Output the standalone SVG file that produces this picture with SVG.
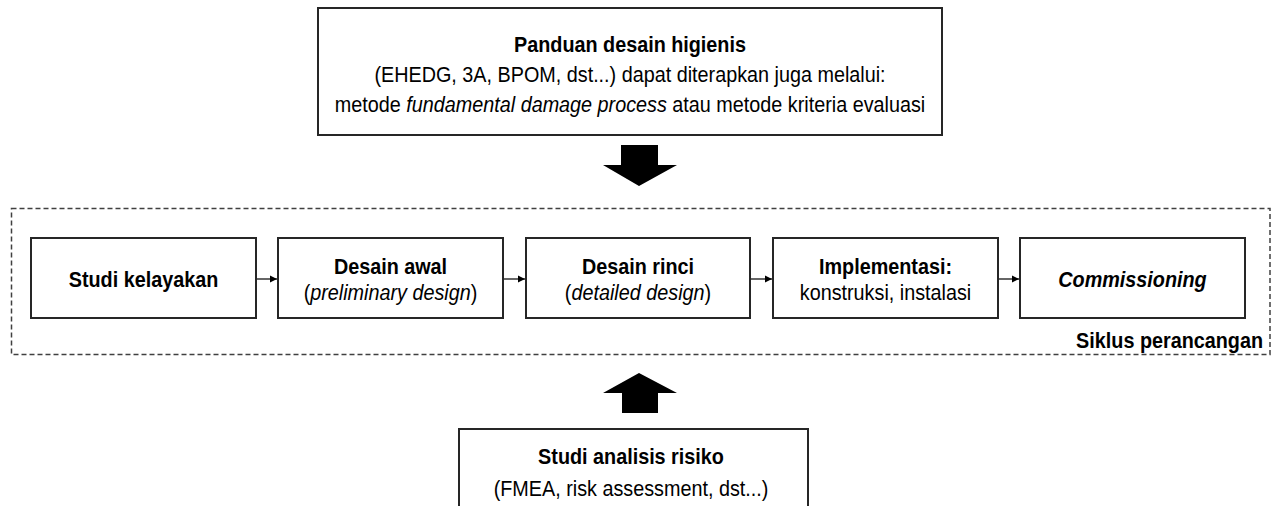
<svg xmlns="http://www.w3.org/2000/svg" width="1274" height="506" viewBox="0 0 1274 506">
<defs>
<marker id="ah" markerWidth="8" markerHeight="8" refX="7" refY="4" orient="auto" markerUnits="userSpaceOnUse">
<path d="M0,0.5 L7,4 L0,7.5 Z" fill="#000"/>
</marker>
<style>
.box{fill:#fff;stroke:#262626;stroke-width:2}
.t{font-family:"Liberation Sans",Arial,sans-serif;font-size:22px;fill:#000;text-anchor:middle}
.b{font-weight:bold}
.i{font-style:italic}
.conn{stroke:#000;stroke-width:1.2;fill:none}
.big{fill:#000}
</style>
</defs>
<rect width="1274" height="506" fill="#fff"/>
<g id="cycle">
<rect x="11.5" y="208.5" width="1258.5" height="146" fill="none" stroke="#404040" stroke-width="1.5" stroke-dasharray="5 3"/>
<text class="t b" transform="translate(1263 348) scale(0.9 1)" x="0" y="0" style="text-anchor:end">Siklus perancangan</text>
</g>
<g id="guide">
<rect class="box" x="318" y="8" width="624" height="127"/>
<text class="t b" transform="translate(630 52) scale(0.9 1)" x="0" y="0">Panduan desain higienis</text>
<text class="t" transform="translate(630 82) scale(0.9 1)" x="0" y="0">(EHEDG, 3A, BPOM, dst...) dapat diterapkan juga melalui:</text>
<text class="t" transform="translate(630 112) scale(0.9 1)" x="0" y="0">metode <tspan class="i">fundamental damage process</tspan> atau metode kriteria evaluasi</text>
</g>
<g id="n1">
<rect class="box" x="31" y="238" width="225" height="80"/>
<text class="t b" transform="translate(143.5 287) scale(0.9 1)" x="0" y="0">Studi kelayakan</text>
</g>
<g id="n2">
<rect class="box" x="278" y="238" width="225" height="80"/>
<text class="t b" transform="translate(390.5 274) scale(0.9 1)" x="0" y="0">Desain awal</text>
<text class="t" transform="translate(390.5 300) scale(0.9 1)" x="0" y="0">(<tspan class="i">preliminary design</tspan>)</text>
</g>
<g id="n3">
<rect class="box" x="526" y="238" width="224" height="80"/>
<text class="t b" transform="translate(638 274) scale(0.9 1)" x="0" y="0">Desain rinci</text>
<text class="t" transform="translate(638 300) scale(0.9 1)" x="0" y="0">(<tspan class="i">detailed design</tspan>)</text>
</g>
<g id="n4">
<rect class="box" x="773" y="238" width="225" height="80"/>
<text class="t b" transform="translate(885.5 274) scale(0.9 1)" x="0" y="0">Implementasi:</text>
<text class="t" transform="translate(885.5 300) scale(0.9 1)" x="0" y="0">konstruksi, instalasi</text>
</g>
<g id="n5">
<rect class="box" x="1020" y="238" width="225" height="80"/>
<text class="t b i" transform="translate(1132.5 287) scale(0.9 1)" x="0" y="0">Commissioning</text>
</g>
<g id="risk">
<rect class="box" x="459" y="429" width="349" height="90"/>
<text class="t b" transform="translate(631 464) scale(0.9 1)" x="0" y="0">Studi analisis risiko</text>
<text class="t" transform="translate(631 496) scale(0.9 1)" x="0" y="0">(FMEA, risk assessment, dst...)</text>
</g>
<g id="connectors">
<line class="conn" x1="257" y1="279" x2="277" y2="279" marker-end="url(#ah)"/>
<line class="conn" x1="504" y1="279" x2="525" y2="279" marker-end="url(#ah)"/>
<line class="conn" x1="751" y1="279" x2="772" y2="279" marker-end="url(#ah)"/>
<line class="conn" x1="999" y1="279" x2="1019" y2="279" marker-end="url(#ah)"/>
<path class="big" d="M621,145 L658,145 L658,165 L677,165 L639,186 L603,165 L621,165 Z"/>
<path class="big" d="M639,373 L677,393 L658,393 L658,413 L622,413 L622,393 L603,393 Z"/>
</g>
</svg>
